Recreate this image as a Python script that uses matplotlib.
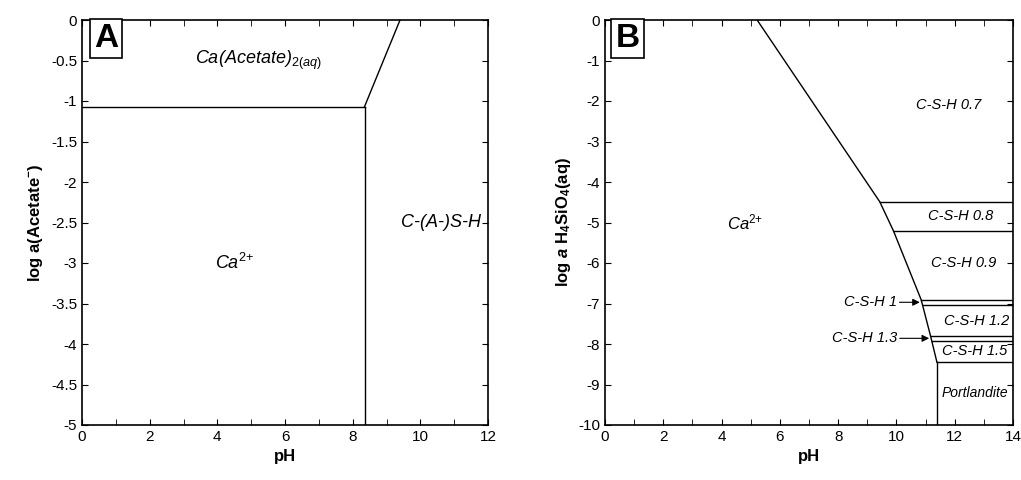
import matplotlib.pyplot as plt
from matplotlib.ticker import MultipleLocator

plt.rcParams['font.family'] = ['Liberation Sans', 'DejaVu Sans']
plt.rcParams['axes.unicode_minus'] = False
plt.rcParams['mathtext.fontset'] = 'custom'
plt.rcParams['mathtext.rm'] = 'Liberation Sans'
plt.rcParams['mathtext.it'] = 'Liberation Sans:italic'
plt.rcParams['mathtext.bf'] = 'Liberation Sans:bold'
plt.rcParams['mathtext.bfit'] = 'Liberation Sans:bold:italic'

# panel A
a_level = -1.07
a_ph_vert = 8.35
a_ph_top = 9.4

# panel B: Ca2+ boundary polyline
b_bound_ph = [5.22, 9.43, 9.9, 10.85, 11.17, 11.39]
b_bound_si = [0.0, -4.49, -5.21, -6.91, -7.80, -8.45]
b_lines_si = [-4.49, -5.21, -6.91, -7.03, -7.80, -7.92, -8.45]
b_lines_ph = [9.43, 9.9, 10.85, 10.9, 11.17, 11.22, 11.39]
b_port_ph = 11.39

fig = plt.figure(figsize=(10.21, 4.8), dpi=100)
axA = fig.add_axes([82/1021, 55/480, 406/1021, 405/480])
axB = fig.add_axes([605/1021, 55/480, 408/1021, 405/480])

def style(ax):
    ax.tick_params(direction='in', top=True, right=True, length=4, labelsize=11)
    ax.tick_params(which='minor', direction='in', top=True, right=True, length=4)
    for s in ax.spines.values():
        s.set_linewidth(1.2)

ca = 'Ca$^{2{+}}$'
lw = 1.0
axA.plot([0, a_ph_vert], [a_level, a_level], 'k', lw=lw)
axA.plot([a_ph_vert, a_ph_vert], [a_level, -5], 'k', lw=lw)
axA.plot([a_ph_vert, a_ph_top], [a_level, 0], 'k', lw=lw)
axA.set_xlim(0, 12); axA.set_ylim(-5, 0)
axA.xaxis.set_major_locator(MultipleLocator(2))
axA.xaxis.set_minor_locator(MultipleLocator(1))
axA.yaxis.set_major_locator(MultipleLocator(0.5))
axA.set_yticklabels([f'{v:g}' for v in axA.get_yticks()])
axA.set_xlabel('pH', fontsize=12, fontweight='bold')
axA.set_ylabel('log a(Acetate$^{\\mathbf{-}}$)', fontsize=12, fontweight='bold')
style(axA)
axA.text(5.2, -0.5, 'Ca(Acetate)$_{2(aq)}$', fontsize=13, style='italic', ha='center', va='center')
axA.text(4.5, -3.0, ca, fontsize=13, style='italic', ha='center', va='center')
axA.text(10.6, -2.5, 'C-(A-)S-H', fontsize=13, style='italic', ha='center', va='center')
axA.text(0.06, 0.955, 'A', transform=axA.transAxes, fontsize=24, fontweight='heavy', ha='center', va='center',
         bbox=dict(boxstyle='square,pad=0.12', fc='white', ec='black', lw=1.2))

axB.plot(b_bound_ph, b_bound_si, 'k', lw=lw)
for ph, si in zip(b_lines_ph, b_lines_si):
    axB.plot([ph, 14], [si, si], 'k', lw=lw)
axB.plot([b_port_ph, b_port_ph], [-8.45, -10], 'k', lw=lw)
axB.set_xlim(0, 14); axB.set_ylim(-10, 0)
axB.xaxis.set_major_locator(MultipleLocator(2))
axB.xaxis.set_minor_locator(MultipleLocator(1))
axB.yaxis.set_major_locator(MultipleLocator(1))
axB.set_xlabel('pH', fontsize=12, fontweight='bold')
axB.set_ylabel('log $\\mathbfit{a}$ H$_\\mathbf{4}$SiO$_\\mathbf{4}$(aq)', fontsize=12, fontweight='bold')
style(axB)
it = dict(style='italic', ha='center', va='center')
axB.text(4.8, -5.0, ca, fontsize=12, **it)
axB.text(11.8, -2.1, 'C-S-H 0.7', fontsize=10.5, **it)
axB.text(12.2, -4.85, 'C-S-H 0.8', fontsize=10.5, **it)
axB.text(12.3, -6.0, 'C-S-H 0.9', fontsize=10.5, **it)
axB.text(12.75, -7.43, 'C-S-H 1.2', fontsize=10.5, **it)
axB.text(12.7, -8.18, 'C-S-H 1.5', fontsize=10.5, **it)
axB.text(12.7, -9.2, 'Portlandite', fontsize=10, **it)
axB.annotate('C-S-H 1', xy=(10.85, -6.97), xytext=(9.1, -6.97), fontsize=10.5, style='italic',
             ha='center', va='center', arrowprops=dict(arrowstyle='-|>', lw=0.8, color='k', shrinkA=22, shrinkB=1))
axB.annotate('C-S-H 1.3', xy=(11.17, -7.86), xytext=(8.9, -7.86), fontsize=10.5, style='italic',
             ha='center', va='center', arrowprops=dict(arrowstyle='-|>', lw=0.8, color='k', shrinkA=30, shrinkB=1))
axB.text(0.055, 0.955, 'B', transform=axB.transAxes, fontsize=24, fontweight='heavy', ha='center', va='center',
         bbox=dict(boxstyle='square,pad=0.12', fc='white', ec='black', lw=1.2))

fig.savefig('out.png', dpi=100)
